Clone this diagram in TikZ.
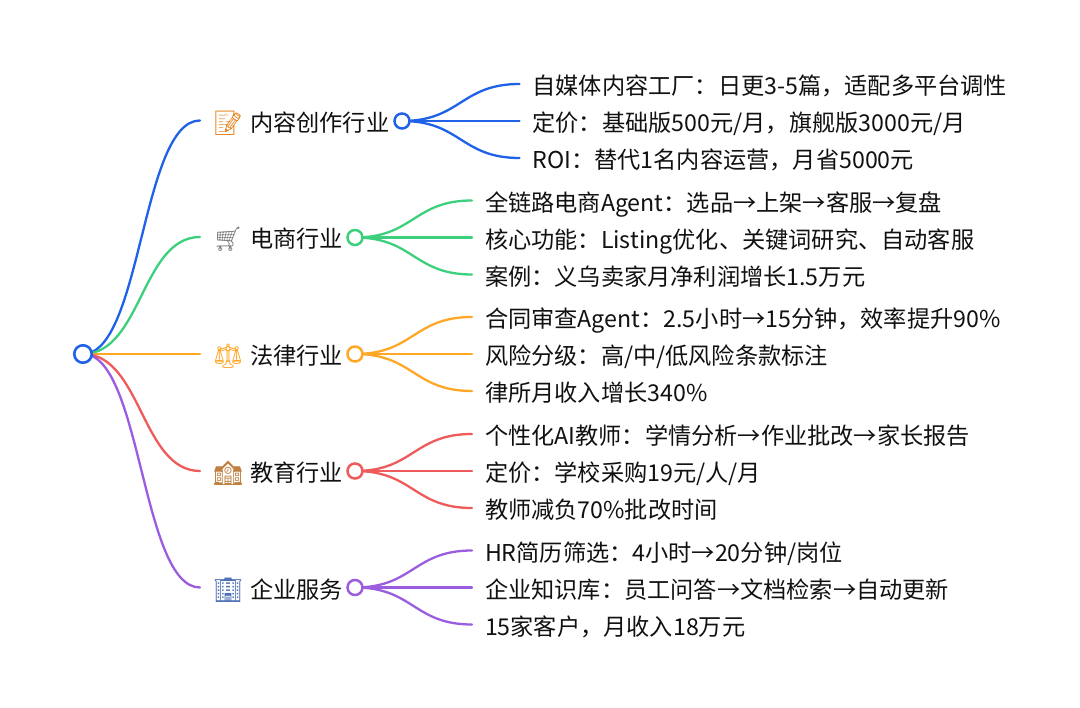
\documentclass[tikz,border=0pt]{standalone}
\usepackage{fontspec}
\setmainfont{Noto Sans CJK SC}
\newfontfamily\emo{Noto Emoji}
\usetikzlibrary{backgrounds,calc}
\definecolor{cblue}{HTML}{1F62E8}
\definecolor{cgreen}{HTML}{3DD07C}
\definecolor{corange}{HTML}{FFA726}
\definecolor{cred}{HTML}{EF5A5A}
\definecolor{cpurple}{HTML}{9B5DE0}
\definecolor{ink}{HTML}{111111}
\tikzset{
  x=1pt,y=-1pt,
  every node/.style={outer sep=0pt},
  txt/.style={font=\fontsize{23.2pt}{26pt}\selectfont,text=ink,inner xsep=0pt,inner ysep=0pt,text height=22pt,text depth=0pt,anchor=west},
  leaf/.style={txt,inner xsep=13pt},
  ico/.style={font=\emo\fontsize{24pt}{26pt}\selectfont,minimum width=56pt,inner sep=0pt,text height=22pt,text depth=0pt,anchor=west},
  hub/.style={circle,draw=#1,fill=white,line width=2.5pt,minimum size=15pt,inner sep=0pt},
  rootc/.style={circle,draw=cblue,fill=white,line width=2.6pt,minimum size=17.5pt,inner sep=0pt},
  link/.style={draw=#1,line width=2.3pt,line cap=round},
}
\newcommand{\curve}[3]{%
  \path[link=#1] (#2.center) .. controls ($(#2.center)!0.5!(#3.west|-#2.center)$) and ($(#2.center|-#3.west)!0.5!(#3.west)$) .. (#3.west);}
\begin{document}
\begin{tikzpicture}
\useasboundingbox (0,0) rectangle (1080,708);
\begin{scope}[on background layer]
\fill[white] (0,0) rectangle (1080,708);
\end{scope}
\node[rootc] (root) at (83,354) {};
% group 1
\node[ico,text=orange!80!gray] (i1) at (200,120.5) {📝};
\node[txt] (t1) at (250,120.5) {内容创作行业};
\node[hub=cblue] (h1) at (402,121) {};
\node[leaf] (a1) at (519.5,84) {自媒体内容工厂：日更3-5篇，适配多平台调性};
\node[leaf] (a2) at (519.5,121) {定价：基础版500元/月，旗舰版3000元/月};
\node[leaf] (a3) at (519.5,158) {ROI：替代1名内容运营，月省5000元};
% group 2
\node[ico,text=gray] (i2) at (200,237) {🛒};
\node[txt] (t2) at (250,237) {电商行业};
\node[hub=cgreen] (h2) at (355,237.5) {};
\node[leaf] (b1) at (472,200.5) {全链路电商Agent：选品→上架→客服→复盘};
\node[leaf] (b2) at (472,237.5) {核心功能：Listing优化、关键词研究、自动客服};
\node[leaf] (b3) at (472,274.5) {案例：义乌卖家月净利润增长1.5万元};
% group 3
\node[ico,text=corange] (i3) at (200,354) {⚖};
\node[txt] (t3) at (250,354) {法律行业};
\node[hub=corange] (h3) at (355,354) {};
\node[leaf] (c1) at (472,317) {合同审查Agent：2.5小时→15分钟，效率提升90\%};
\node[leaf] (c2) at (472,354) {风险分级：高/中/低风险条款标注};
\node[leaf] (c3) at (472,391) {律所月收入增长340\%};
% group 4
\node[ico,text=brown] (i4) at (200,471) {🏫};
\node[txt] (t4) at (250,471) {教育行业};
\node[hub=cred] (h4) at (355,471) {};
\node[leaf] (d1) at (472,434) {个性化AI教师：学情分析→作业批改→家长报告};
\node[leaf] (d2) at (472,471) {定价：学校采购19元/人/月};
\node[leaf] (d3) at (472,508) {教师减负70\%批改时间};
% group 5
\node[ico,text=cblue!50!gray] (i5) at (200,587.5) {🏢};
\node[txt] (t5) at (250,587.5) {企业服务};
\node[hub=cpurple] (h5) at (355,587.5) {};
\node[leaf] (e1) at (472,550.5) {HR简历筛选：4小时→20分钟/岗位};
\node[leaf] (e2) at (472,587.5) {企业知识库：员工问答→文档检索→自动更新};
\node[leaf] (e3) at (472,624.5) {15家客户，月收入18万元};
\begin{scope}[on background layer]
\curve{cblue}{root}{i1}
\curve{cgreen}{root}{i2}
\curve{corange}{root}{i3}
\curve{cred}{root}{i4}
\curve{cpurple}{root}{i5}
\curve{cblue}{h1}{a1}\curve{cblue}{h1}{a2}\curve{cblue}{h1}{a3}
\curve{cgreen}{h2}{b1}\curve{cgreen}{h2}{b2}\curve{cgreen}{h2}{b3}
\curve{corange}{h3}{c1}\curve{corange}{h3}{c2}\curve{corange}{h3}{c3}
\curve{cred}{h4}{d1}\curve{cred}{h4}{d2}\curve{cred}{h4}{d3}
\curve{cpurple}{h5}{e1}\curve{cpurple}{h5}{e2}\curve{cpurple}{h5}{e3}
\end{scope}
\end{tikzpicture}
\end{document}
